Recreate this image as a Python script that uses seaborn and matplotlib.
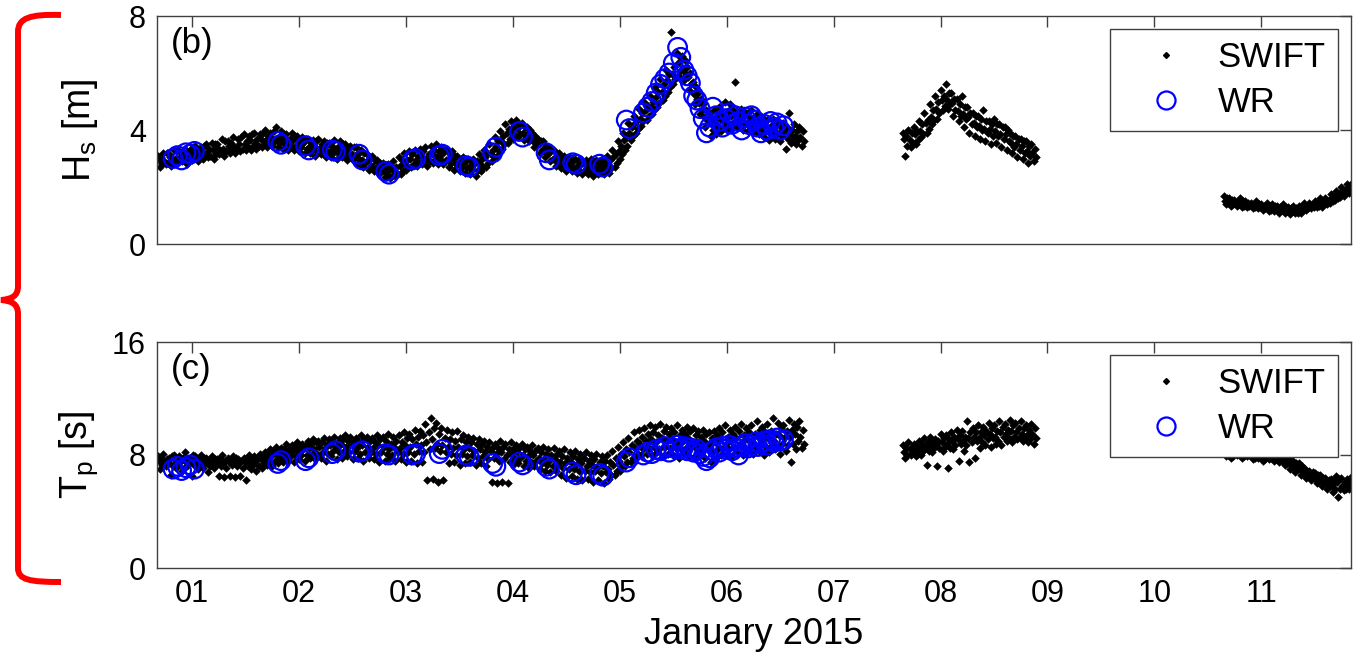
import numpy as np
import pandas as pd
import matplotlib
matplotlib.use('Agg')
import matplotlib.pyplot as plt
import matplotlib.transforms as mtransforms
from matplotlib.lines import Line2D
from matplotlib.path import Path
from matplotlib.patches import PathPatch
import seaborn as sns

# ==========================================
# Data (days of January 2015)
# ==========================================
DAYS = [1, 2, 3, 4, 5, 6, 7, 8, 9, 10, 11]
DAY_LABELS = ['01', '02', '03', '04', '05', '06', '07', '08', '09', '10', '11']

# SWIFT: five drifting buoys, one burst every SAMPLE_STEP days, three record segments
SAMPLE_STEP = 0.05
BUOY_OFFSETS = [0.0, 0.01, 0.02, 0.03, 0.04]
SEG_STARTS = [0.68, 7.65, 10.65]

# --- Hs [m], segment 1 (Jan 0.68 - 6.68)
HS1_A = [3.1, 3.2, 3.15, 3.3, 3.25, 3.35, 3.3, 3.45, 3.4, 3.5,
         3.55, 3.5, 3.7, 3.6, 3.75, 3.7, 3.85, 3.8, 3.9, 3.85,
         4.0, 3.9, 4.1, 3.95, 3.85, 3.9, 3.8, 3.75, 3.7, 3.65,
         3.7, 3.6, 3.55, 3.65, 3.6, 3.5, 3.45, 3.4, 3.3, 3.15,
         3.1, 2.95, 2.85, 2.8, 2.9, 3.05, 3.2, 3.25, 3.3, 3.35,
         3.4, 3.45, 3.5, 3.4, 3.3, 3.25, 3.1, 3.05, 3.0, 3.0,
         3.15, 3.3, 3.5, 3.75, 3.95, 4.2, 4.3, 4.35, 4.25, 4.1,
         3.9, 3.7, 3.6, 3.4, 3.3, 3.2, 3.1, 3.05, 3.0, 3.0,
         2.95, 3.0, 2.95, 3.0, 3.1, 3.3, 3.6, 3.9, 4.25, 4.5,
         4.75, 5.0, 5.2, 5.5, 5.8, 6.1, 7.45, 6.7, 6.6, 6.2,
         5.7, 5.3, 4.9, 4.6, 4.7, 4.8, 5.0, 4.9, 5.7, 4.75,
         4.6, 4.7, 4.55, 4.45, 4.35, 4.4, 4.3, 4.25, 4.6, 4.2, 4.1]
HS1_B = [2.95, 2.9, 3.05, 3.0, 3.1, 3.05, 3.2, 3.15, 3.25, 3.2,
         3.3, 3.35, 3.35, 3.45, 3.4, 3.5, 3.5, 3.65, 3.55, 3.7,
         3.65, 3.75, 3.65, 3.7, 3.55, 3.65, 3.5, 3.55, 3.4, 3.45,
         3.35, 3.4, 3.25, 3.35, 3.25, 3.3, 3.15, 3.15, 2.95, 2.95,
         2.75, 2.75, 2.55, 2.6, 2.55, 2.75, 2.8, 3.0, 2.95, 3.1,
         3.0, 3.15, 3.1, 3.15, 2.95, 3.0, 2.8, 2.85, 2.7, 2.8,
         2.8, 3.05, 3.15, 3.45, 3.6, 3.9, 3.9, 4.05, 3.9, 3.9,
         3.6, 3.5, 3.25, 3.2, 2.95, 2.95, 2.8, 2.85, 2.7, 2.8,
         2.65, 2.75, 2.65, 2.75, 2.75, 3.05, 3.25, 3.65, 3.9, 4.25,
         4.4, 4.7, 4.8, 5.15, 5.35, 5.75, 5.95, 6.35, 6.1, 5.85,
         5.25, 4.95, 4.45, 4.25, 4.25, 4.4, 4.3, 4.5, 4.35, 4.45,
         4.25, 4.3, 4.15, 4.15, 3.95, 4.05, 3.9, 3.95, 3.85, 3.8, 3.75]
HS1_C = [2.7, 2.8, 2.75, 2.85, 2.9, 2.8, 2.95, 2.9, 3.0, 3.05,
         3.0, 3.15, 3.1, 3.2, 3.2, 3.25, 3.3, 3.3, 3.35, 3.4,
         3.4, 3.45, 3.4, 3.35, 3.3, 3.3, 3.25, 3.2, 3.2, 3.1,
         3.15, 3.05, 3.05, 3.0, 3.05, 2.95, 2.95, 2.8, 2.7, 2.6,
         2.55, 2.45, 2.35, 2.3, 2.4, 2.45, 2.6, 2.7, 2.75, 2.8,
         2.75, 2.85, 2.8, 2.8, 2.7, 2.6, 2.55, 2.5, 2.45, 2.4,
         2.55, 2.7, 2.9, 3.1, 3.35, 3.55, 3.7, 3.75, 3.65, 3.6,
         3.4, 3.2, 3.05, 2.9, 2.75, 2.65, 2.55, 2.55, 2.5, 2.45,
         2.45, 2.4, 2.45, 2.45, 2.5, 2.7, 3.0, 3.3, 3.65, 3.9,
         4.15, 4.35, 4.55, 4.8, 5.05, 5.35, 5.6, 5.9, 5.75, 5.4,
         4.9, 4.55, 4.1, 3.8, 3.85, 3.95, 4.0, 4.05, 4.1, 4.0,
         3.95, 3.9, 3.85, 3.75, 3.65, 3.7, 3.6, 3.35, 3.55, 3.5, 3.45]
HS1_D = [3.05, 3.2, 2.95, 3.3, 3.2, 3.0, 3.4, 3.3, 3.45, 3.35,
         3.5, 3.3, 3.6, 3.55, 3.35, 3.75, 3.6, 3.85, 3.7, 3.9,
         3.8, 3.95, 3.75, 3.85, 3.7, 3.8, 3.65, 3.7, 3.55, 3.6,
         3.5, 3.55, 3.45, 3.4, 3.5, 3.35, 3.4, 3.2, 3.2, 3.0,
         2.95, 2.85, 2.7, 2.75, 2.7, 2.95, 2.95, 3.15, 3.1, 3.25,
         3.15, 3.3, 3.25, 3.3, 3.15, 3.1, 3.0, 2.95, 2.9, 2.9,
         3.0, 3.2, 3.3, 3.6, 3.8, 4.05, 4.1, 4.2, 4.1, 4.0,
         3.8, 3.6, 3.45, 3.3, 3.15, 3.05, 3.0, 2.95, 2.9, 2.85,
         2.85, 2.85, 2.8, 2.85, 2.95, 3.15, 3.45, 3.8, 4.1, 4.35,
         4.6, 4.85, 5.0, 5.35, 5.6, 5.95, 6.2, 6.55, 6.45, 6.0,
         5.5, 5.1, 4.7, 4.4, 4.5, 4.55, 4.65, 4.7, 4.6, 4.6,
         4.45, 4.45, 4.35, 4.3, 4.15, 4.2, 4.1, 4.1, 4.0, 3.95, 3.95]
HS1_E = [2.8, 2.85, 2.9, 2.95, 3.0, 2.95, 3.05, 3.05, 3.1, 3.1,
         3.15, 3.2, 3.25, 3.3, 3.3, 3.35, 3.4, 3.45, 3.45, 3.5,
         3.55, 3.6, 3.55, 3.5, 3.45, 3.45, 3.4, 3.35, 3.3, 3.25,
         3.3, 3.2, 3.2, 3.15, 3.15, 3.1, 3.05, 2.95, 2.85, 2.75,
         2.65, 2.6, 2.45, 2.4, 2.45, 2.55, 2.7, 2.8, 2.85, 2.9,
         2.9, 2.95, 3.0, 2.95, 2.85, 2.8, 2.7, 2.65, 2.6, 2.6,
         2.7, 2.85, 3.05, 3.25, 3.5, 3.7, 3.8, 3.85, 3.8, 3.7,
         3.5, 3.3, 3.15, 3.0, 2.85, 2.75, 2.7, 2.65, 2.6, 2.6,
         2.55, 2.55, 2.55, 2.55, 2.65, 2.85, 3.15, 3.45, 3.8, 4.05,
         4.3, 4.5, 4.7, 4.95, 5.2, 5.5, 5.8, 6.1, 5.95, 5.6,
         5.1, 4.7, 4.3, 4.0, 4.1, 4.15, 4.2, 4.25, 4.2, 4.2,
         4.1, 4.05, 4.0, 3.95, 3.85, 3.85, 3.8, 3.7, 3.7, 3.65, 3.6]
# --- Hs [m], segment 2 (Jan 7.65 - 8.85)
HS2_A = [3.9, 4.0, 4.1, 4.3, 4.6, 4.9, 5.2, 5.4, 5.6, 5.3, 5.1, 5.2, 4.8,
         4.6, 4.5, 4.7, 4.3, 4.4, 4.2, 4.1, 3.9, 3.8, 3.7, 3.6, 3.5]
HS2_B = [3.7, 3.65, 3.85, 3.95, 4.25, 4.45, 4.75, 5.05, 5.05, 4.95, 4.65, 4.55, 4.45,
         4.25, 4.15, 4.05, 4.05, 3.95, 3.85, 3.85, 3.55, 3.5, 3.45, 3.25, 3.2]
HS2_C = [3.1, 3.4, 3.5, 3.75, 3.9, 4.2, 4.4, 4.7, 4.75, 4.5, 4.3, 4.1, 3.9,
         3.8, 3.7, 3.6, 3.5, 3.55, 3.4, 3.3, 3.2, 3.05, 3.0, 2.85, 2.9]
HS2_D = [3.8, 3.9, 3.95, 4.2, 4.35, 4.7, 5.0, 5.2, 5.3, 5.1, 4.9, 4.8, 4.6,
         4.5, 4.4, 4.3, 4.2, 4.2, 4.1, 4.0, 3.8, 3.7, 3.6, 3.45, 3.35]
HS2_E = [3.45, 3.55, 3.65, 3.85, 4.05, 4.35, 4.6, 4.85, 4.9, 4.7, 4.5, 4.4, 4.2,
         4.1, 4.0, 3.9, 3.8, 3.8, 3.7, 3.6, 3.4, 3.3, 3.2, 3.1, 3.05]
# --- Hs [m], segment 3 (Jan 10.65 - 11.85)
HS3_A = [1.7, 1.6, 1.55, 1.6, 1.5, 1.45, 1.5, 1.4, 1.45, 1.4, 1.35, 1.4, 1.3,
         1.35, 1.35, 1.45, 1.45, 1.5, 1.6, 1.6, 1.75, 1.85, 2.0, 2.1, 2.15]
HS3_B = [1.5, 1.45, 1.45, 1.4, 1.35, 1.35, 1.3, 1.3, 1.25, 1.3, 1.25, 1.2, 1.2,
         1.15, 1.25, 1.3, 1.35, 1.4, 1.45, 1.5, 1.6, 1.7, 1.85, 1.95, 1.95]
HS3_C = [1.4, 1.35, 1.35, 1.3, 1.3, 1.25, 1.25, 1.2, 1.15, 1.15, 1.1, 1.1, 1.05,
         1.1, 1.1, 1.2, 1.25, 1.3, 1.3, 1.4, 1.5, 1.6, 1.7, 1.8, 1.85]
HS3_D = [1.6, 1.55, 1.5, 1.5, 1.45, 1.4, 1.4, 1.35, 1.35, 1.35, 1.3, 1.3, 1.25,
         1.25, 1.3, 1.35, 1.4, 1.45, 1.5, 1.55, 1.65, 1.75, 1.9, 2.0, 2.05]
HS3_E = [1.45, 1.4, 1.4, 1.35, 1.35, 1.3, 1.3, 1.25, 1.2, 1.25, 1.2, 1.15, 1.15,
         1.1, 1.2, 1.25, 1.3, 1.35, 1.4, 1.45, 1.55, 1.65, 1.8, 1.9, 1.9]

# --- Tp [s], segment 1
TP1_A = [7.9, 8.1, 7.8, 8.0, 7.9, 8.2, 7.8, 7.9, 8.0, 7.8,
         7.9, 7.7, 8.0, 7.8, 7.9, 7.7, 7.8, 8.0, 7.9, 8.1,
         8.2, 8.4, 8.6, 8.5, 8.8, 8.7, 8.9, 8.8, 9.0, 9.1,
         9.0, 9.2, 9.1, 9.3, 9.2, 9.4, 9.3, 9.2, 9.4, 9.3,
         9.2, 9.4, 9.3, 9.5, 9.3, 9.4, 9.6, 9.5, 9.8, 9.7,
         10.2, 10.6, 10.3, 9.9, 9.8, 9.6, 9.7, 9.4, 9.3, 9.2,
         9.1, 9.0, 8.9, 8.8, 9.0, 8.8, 8.9, 8.7, 8.8, 8.6,
         8.7, 8.5, 8.6, 8.4, 8.5, 8.3, 8.4, 8.2, 8.3, 8.1,
         8.2, 8.0, 8.1, 7.9, 8.0, 8.3, 8.6, 8.9, 9.2, 9.6,
         9.8, 9.9, 10.1, 10.0, 10.2, 10.0, 9.9, 10.1, 9.8, 10.0,
         9.9, 9.7, 9.8, 9.6, 9.7, 9.9, 10.1, 9.8, 10.0, 10.2,
         9.9, 10.1, 10.4, 10.0, 10.2, 10.6, 10.3, 10.1, 10.5, 10.2, 10.4]
TP1_B = [7.6, 7.5, 7.7, 7.4, 7.6, 7.5, 7.7, 7.5, 7.6, 7.4,
         7.5, 7.6, 7.4, 7.5, 7.6, 7.4, 7.5, 7.6, 7.5, 7.7,
         7.8, 7.9, 8.0, 8.1, 8.2, 8.3, 8.3, 8.4, 8.5, 8.4,
         8.6, 8.5, 8.7, 8.6, 8.8, 8.6, 8.7, 8.5, 8.7, 8.6,
         8.5, 8.7, 8.6, 8.4, 8.6, 8.5, 8.7, 8.6, 8.8, 8.7,
         8.9, 9.1, 8.8, 8.7, 8.6, 8.5, 8.6, 8.4, 8.5, 8.3,
         8.4, 8.2, 8.3, 8.1, 8.2, 8.0, 8.1, 8.2, 8.0, 7.9,
         8.0, 7.8, 7.7, 7.6, 7.7, 7.5, 7.4, 7.5, 7.3, 7.4,
         7.2, 7.3, 7.1, 7.2, 7.0, 7.3, 7.6, 7.9, 8.2, 8.5,
         8.8, 9.0, 9.1, 8.9, 9.2, 9.0, 9.1, 8.9, 9.0, 9.2,
         8.9, 8.8, 9.0, 8.7, 8.9, 9.1, 8.8, 9.0, 9.2, 8.9,
         9.1, 9.0, 9.3, 9.1, 9.2, 9.0, 9.4, 9.2, 9.3, 9.5, 9.3]
TP1_C = [7.0, 7.2, 6.6, 7.1, 6.9, 7.2, 6.5, 7.0, 7.1, 6.8,
         7.1, 6.5, 6.45, 6.5, 6.45, 6.5, 6.2, 7.0, 6.9, 7.1,
         7.3, 7.2, 7.4, 7.5, 7.6, 7.5, 7.7, 7.6, 7.8, 7.7,
         7.8, 7.6, 7.9, 7.7, 7.8, 7.9, 7.7, 7.8, 7.6, 7.8,
         7.7, 7.5, 7.6, 7.8, 7.6, 7.7, 7.5, 7.6, 7.4, 7.5,
         6.2, 6.3, 6.1, 6.2, 7.4, 7.5, 7.3, 7.4, 7.5, 7.3,
         7.4, 7.2, 6.1, 6.0, 6.1, 6.0, 7.3, 7.4, 7.2, 7.1,
         7.2, 7.0, 6.9, 6.8, 6.9, 6.6, 6.4, 6.5, 6.3, 6.2,
         6.3, 6.1, 6.2, 6.0, 6.3, 6.6, 6.9, 7.2, 7.5, 7.8,
         8.0, 8.1, 8.0, 8.2, 7.9, 8.1, 8.0, 7.8, 8.1, 7.9,
         7.9, 8.0, 7.8, 7.5, 7.8, 8.0, 8.1, 7.9, 8.2, 8.0,
         8.2, 8.1, 8.3, 8.0, 8.2, 8.4, 8.1, 8.3, 7.5, 8.4, 8.5]
TP1_D = [7.8, 7.7, 7.9, 7.6, 7.8, 7.7, 8.0, 7.7, 7.8, 7.6,
         7.7, 7.8, 7.6, 7.7, 7.8, 7.6, 7.7, 7.8, 7.7, 7.9,
         8.0, 8.2, 8.3, 8.4, 8.5, 8.6, 8.6, 8.7, 8.8, 8.9,
         8.9, 8.8, 9.0, 8.9, 9.1, 9.0, 9.0, 8.9, 9.1, 9.0,
         8.9, 9.1, 9.0, 8.8, 9.0, 8.9, 9.2, 9.1, 9.3, 9.4,
         9.6, 9.9, 9.5, 9.2, 9.1, 9.0, 9.1, 8.9, 8.9, 8.8,
         8.8, 8.6, 8.6, 8.5, 8.6, 8.4, 8.5, 8.5, 8.4, 8.3,
         8.3, 8.2, 8.1, 8.0, 8.1, 7.9, 7.8, 7.9, 7.7, 7.8,
         7.6, 7.7, 7.5, 7.6, 7.5, 7.8, 8.1, 8.4, 8.7, 9.0,
         9.3, 9.5, 9.6, 9.4, 9.7, 9.5, 9.6, 9.4, 9.5, 9.7,
         9.4, 9.3, 9.5, 9.2, 9.4, 9.6, 9.3, 9.5, 9.7, 9.4,
         9.6, 9.5, 9.8, 9.6, 9.7, 9.5, 9.9, 9.7, 9.8, 10.0, 9.8]
TP1_E = [7.3, 7.4, 7.2, 7.3, 7.1, 7.4, 7.3, 7.2, 7.4, 7.2,
         7.3, 7.2, 7.1, 7.3, 7.2, 7.1, 7.2, 7.3, 7.2, 7.4,
         7.5, 7.6, 7.7, 7.8, 7.9, 7.9, 8.0, 8.0, 8.1, 8.1,
         8.2, 8.1, 8.3, 8.2, 8.3, 8.2, 8.3, 8.1, 8.2, 8.2,
         8.1, 8.2, 8.1, 8.0, 8.2, 8.1, 8.2, 8.1, 8.3, 8.2,
         8.4, 8.5, 8.3, 8.2, 8.1, 8.0, 8.1, 7.9, 8.0, 7.8,
         7.9, 7.7, 7.8, 7.6, 7.7, 7.5, 7.7, 7.8, 7.6, 7.5,
         7.6, 7.4, 7.3, 7.2, 7.3, 7.1, 7.0, 7.0, 6.9, 6.9,
         6.8, 6.9, 6.7, 6.8, 6.6, 6.9, 7.2, 7.5, 7.8, 8.1,
         8.4, 8.5, 8.6, 8.4, 8.6, 8.5, 8.6, 8.4, 8.5, 8.6,
         8.4, 8.3, 8.5, 8.2, 8.4, 8.6, 8.4, 8.5, 8.7, 8.4,
         8.6, 8.5, 8.8, 8.6, 8.7, 8.6, 8.8, 8.7, 8.8, 9.0, 8.8]
# --- Tp [s], segment 2
TP2_A = [8.7, 8.9, 8.8, 9.0, 9.2, 9.3, 9.1, 9.5, 9.4, 9.6, 9.8, 9.7, 10.4,
         9.9, 10.1, 10.0, 10.3, 10.1, 10.4, 10.2, 10.5, 10.3, 10.4, 10.1, 10.2]
TP2_B = [8.2, 8.4, 8.3, 8.5, 8.6, 8.7, 8.8, 8.9, 8.8, 9.0, 9.1, 9.0, 9.2,
         9.3, 9.2, 9.4, 9.5, 9.3, 9.6, 9.5, 9.7, 9.6, 9.5, 9.4, 9.5]
TP2_C = [7.8, 8.0, 7.9, 8.0, 7.3, 8.2, 7.2, 8.3, 7.1, 8.4, 7.6, 8.3, 7.5,
         7.8, 8.5, 8.7, 8.6, 8.8, 8.7, 9.0, 8.9, 9.1, 9.0, 8.9, 8.8]
TP2_D = [8.5, 8.6, 8.6, 8.8, 8.9, 9.0, 9.0, 9.2, 9.1, 9.3, 9.4, 9.3, 9.6,
         9.6, 9.6, 9.7, 9.9, 9.7, 10.0, 9.8, 10.1, 9.9, 9.9, 9.8, 9.9]
TP2_E = [8.0, 8.2, 8.1, 8.3, 8.3, 8.5, 8.5, 8.6, 8.5, 8.7, 8.8, 8.7, 8.9,
         9.0, 8.9, 9.1, 9.2, 9.0, 9.3, 9.2, 9.3, 9.3, 9.2, 9.1, 9.2]
# --- Tp [s], segment 3
TP3_A = [8.5, 8.4, 8.6, 8.4, 8.5, 8.3, 8.4, 8.2, 8.3, 8.2, 8.1, 8.0, 7.8,
         7.6, 7.4, 7.1, 6.9, 6.7, 6.6, 6.4, 6.3, 6.5, 6.4, 6.3, 6.5]
TP3_B = [8.2, 8.1, 8.3, 8.1, 8.2, 8.0, 8.1, 7.9, 8.0, 7.9, 7.8, 7.6, 7.4,
         7.2, 7.0, 6.8, 6.6, 6.4, 6.2, 6.0, 5.9, 6.1, 5.8, 5.9, 6.0]
TP3_C = [7.9, 7.8, 8.0, 7.8, 7.9, 7.7, 7.8, 7.6, 7.7, 7.6, 7.5, 7.3, 7.0,
         6.8, 6.6, 6.4, 6.2, 6.0, 5.8, 5.6, 5.4, 5.0, 5.5, 5.6, 5.7]
TP3_D = [8.4, 8.3, 8.4, 8.3, 8.3, 8.2, 8.3, 8.1, 8.1, 8.0, 8.0, 7.8, 7.6,
         7.4, 7.2, 6.9, 6.8, 6.6, 6.4, 6.2, 6.1, 6.3, 6.1, 6.1, 6.2]
TP3_E = [8.0, 7.9, 8.1, 7.9, 8.0, 7.8, 7.9, 7.7, 7.8, 7.7, 7.6, 7.4, 7.2,
         7.0, 6.8, 6.6, 6.4, 6.2, 6.0, 5.8, 5.6, 5.6, 5.6, 5.7, 5.8]

# WR (Waverider) records
WR_DAY = [0.82, 0.86, 0.90, 0.94, 0.98, 1.02,
          1.80, 1.83, 2.06, 2.09, 2.31, 2.34, 2.56, 2.59, 2.81, 2.84, 3.06, 3.09,
          3.31, 3.34, 3.56, 3.59, 3.81, 3.84, 4.06, 4.09, 4.31, 4.34, 4.56, 4.59,
          4.81, 4.84, 5.06, 5.09,
          5.22, 5.26, 5.30, 5.34, 5.38, 5.42, 5.46, 5.50, 5.54, 5.57,
          5.60, 5.63, 5.66, 5.69, 5.72, 5.75, 5.78, 5.81, 5.84, 5.87,
          5.90, 5.93, 5.96, 5.99, 6.02, 6.05, 6.08, 6.11, 6.14, 6.17,
          6.20, 6.23, 6.26, 6.29, 6.32, 6.35, 6.38, 6.41, 6.44, 6.47,
          6.50, 6.53]
WR_HS = [3.0, 3.1, 2.95, 3.2, 3.15, 3.25,
         3.6, 3.5, 3.45, 3.3, 3.3, 3.25, 3.15, 2.95, 2.55, 2.45, 2.95, 3.0,
         3.1, 3.15, 2.75, 2.7, 3.2, 3.4, 3.95, 3.75, 3.2, 2.95, 2.85, 2.8,
         2.8, 2.7, 4.35, 4.05,
         4.6, 4.8, 5.0, 5.3, 5.6, 5.8, 6.0, 6.35, 6.9, 6.55,
         6.1, 5.9, 5.65, 5.2, 5.05, 4.75, 4.4, 3.9, 4.1, 4.8,
         4.5, 4.3, 4.1, 4.4, 4.6, 4.2, 4.5, 4.3, 4.0, 4.45,
         4.2, 4.5, 4.35, 4.1, 3.9, 4.2, 4.0, 4.3, 4.1, 4.25,
         4.0, 4.15]
WR_TP = [7.0, 7.2, 6.9, 7.1, 7.3, 7.0,
         7.4, 7.6, 7.6, 7.8, 8.1, 8.3, 8.2, 8.3, 8.1, 8.0, 8.0, 8.1,
         8.1, 8.4, 8.0, 7.9, 7.4, 7.2, 7.5, 7.3, 7.2, 7.0, 6.8, 6.6,
         6.7, 6.5, 7.5, 7.8,
         8.0, 8.2, 8.1, 8.4, 8.3, 8.6, 8.2, 8.5, 8.7, 8.4,
         8.6, 8.3, 8.5, 8.2, 8.4, 8.1, 7.9, 7.6, 7.8, 8.3,
         8.5, 8.2, 8.6, 8.4, 8.7, 8.3, 8.5, 8.0, 8.6, 8.8,
         8.5, 8.7, 8.9, 8.6, 8.8, 9.0, 8.7, 9.1, 8.9, 9.2,
         9.0, 9.1]

HS_SEGMENTS = [[HS1_A, HS1_B, HS1_C, HS1_D, HS1_E],
               [HS2_A, HS2_B, HS2_C, HS2_D, HS2_E],
               [HS3_A, HS3_B, HS3_C, HS3_D, HS3_E]]
TP_SEGMENTS = [[TP1_A, TP1_B, TP1_C, TP1_D, TP1_E],
               [TP2_A, TP2_B, TP2_C, TP2_D, TP2_E],
               [TP3_A, TP3_B, TP3_C, TP3_D, TP3_E]]


def swift_frame():
    rows = []
    for start, hs_seg, tp_seg in zip(SEG_STARTS, HS_SEGMENTS, TP_SEGMENTS):
        for off, hs, tp in zip(BUOY_OFFSETS, hs_seg, tp_seg):
            t = start + off + SAMPLE_STEP * np.arange(len(hs))
            rows.append(pd.DataFrame({'day': t, 'hs': hs, 'tp': tp}))
    return pd.concat(rows, ignore_index=True)


swift = swift_frame()
wr = pd.DataFrame({'day': WR_DAY, 'hs': WR_HS, 'tp': WR_TP})

# ==========================================
# Figure
# ==========================================
sns.set_style('white')
plt.rcParams['font.family'] = ['Liberation Sans', 'DejaVu Sans']
plt.rcParams['mathtext.fontset'] = 'custom'
plt.rcParams['mathtext.rm'] = 'Liberation Sans'
plt.rcParams['mathtext.it'] = 'Liberation Sans'
plt.rcParams['text.color'] = 'k'

W, H = 1355, 664
fig = plt.figure(figsize=(W / 100, H / 100), dpi=100)
ax_hs = fig.add_axes([157 / W, 1 - 244 / H, 1194 / W, 228 / H])
ax_tp = fig.add_axes([157 / W, 1 - 568 / H, 1194 / W, 226 / H])

panels = [(ax_hs, 'hs', 'H$_\\mathrm{s}$ [m]', [0, 4, 8], '(b)'),
          (ax_tp, 'tp', 'T$_\\mathrm{p}$ [s]', [0, 8, 16], '(c)')]

edge = '0.25'
for ax, col, ylab, yt, tag in panels:
    sns.scatterplot(data=swift, x='day', y=col, ax=ax, color='k', marker='D',
                    s=19, linewidth=0, legend=False, zorder=2)
    sns.scatterplot(data=wr, x='day', y=col, ax=ax, marker='o', s=180,
                    facecolor='none', edgecolor='#0000ff', linewidth=1.6,
                    legend=False, zorder=3)
    ax.set_xlim(0.67, 11.84)
    ax.set_ylim(yt[0], yt[-1])
    ax.set_yticks(yt)
    ax.set_xticks(DAYS)
    ax.set_xticklabels(DAY_LABELS)
    ax.tick_params(direction='in', top=True, right=True, length=8, width=1,
                   color=edge, labelcolor='k', labelsize=22, pad=8)
    for sp in ax.spines.values():
        sp.set_color(edge)
        sp.set_linewidth(1)
    ax.set_ylabel(ylab, fontsize=27, color='k')
    ax.yaxis.set_label_coords(-0.048, 0.5)
    ax.set_xlabel('')
    ax.text(0.012, 0.95, tag, transform=ax.transAxes, fontsize=25, va='top', ha='left')

    handles = [Line2D([], [], linestyle='none', marker='D', markersize=3, color='k'),
               Line2D([], [], linestyle='none', marker='o', markersize=13,
                      markerfacecolor='none', markeredgecolor='#0000ff', markeredgewidth=1.6)]
    leg = ax.legend(handles, ['SWIFT', 'WR'], loc='upper right', bbox_to_anchor=(0.989, 0.943),
                    borderaxespad=0, fontsize=25, frameon=True, fancybox=False,
                    framealpha=1, edgecolor=edge, borderpad=0.35, handlelength=2.5,
                    handletextpad=0.25, labelspacing=0.35)
    leg.get_frame().set_linewidth(1)
    leg.set_zorder(5)

ax_hs.tick_params(labelbottom=False)
ax_tp.set_xlabel('January 2015', fontsize=26, labelpad=6, color='k')

# red brace on the left, drawn in figure pixels
px = mtransforms.Affine2D().scale(1 / W, -1 / H).translate(0, 1) + fig.transFigure
verts = [(61, 15), (30, 14), (18, 18), (18, 32),
         (18, 286),
         (18, 296), (12, 299), (1, 300),
         (12, 301), (18, 304), (18, 314),
         (18, 568),
         (18, 580), (30, 582), (61, 582)]
codes = [Path.MOVETO, Path.CURVE4, Path.CURVE4, Path.CURVE4,
         Path.LINETO,
         Path.CURVE4, Path.CURVE4, Path.CURVE4,
         Path.CURVE4, Path.CURVE4, Path.CURVE4,
         Path.LINETO,
         Path.CURVE4, Path.CURVE4, Path.CURVE4]
fig.patches.append(PathPatch(Path(verts, codes), transform=px, facecolor='none',
                             edgecolor='#ff0000', linewidth=4.3, capstyle='butt'))

fig.savefig('out.png', dpi=100)
